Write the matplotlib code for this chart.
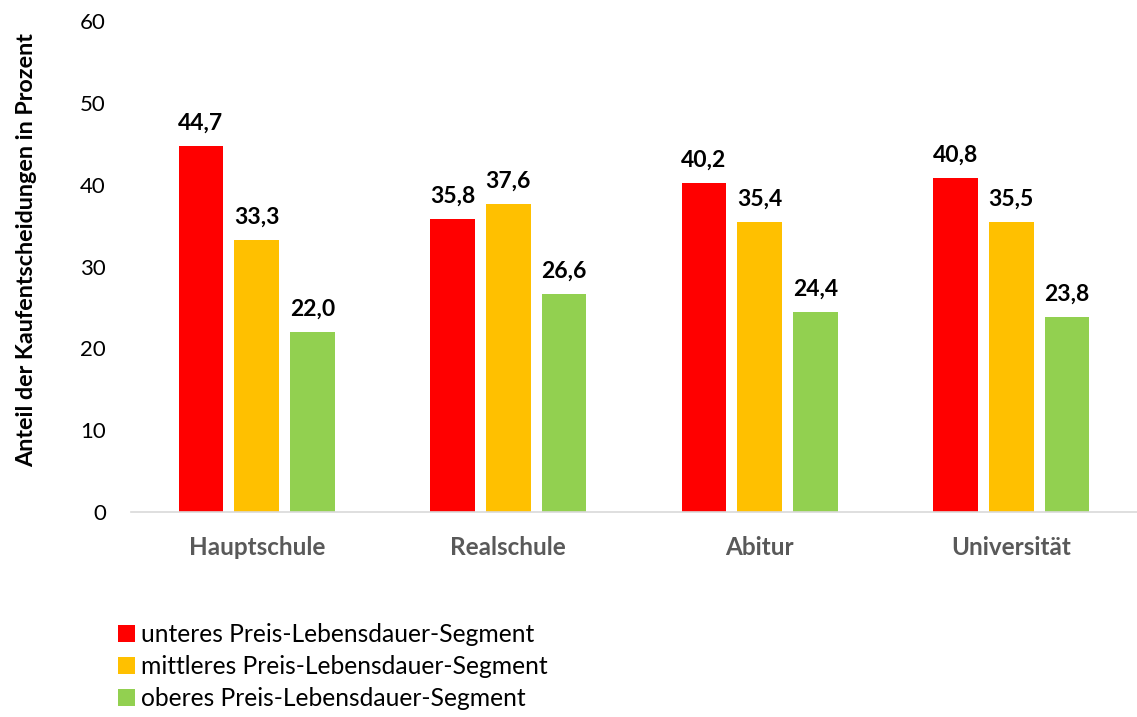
import matplotlib
matplotlib.use("Agg")
import matplotlib.pyplot as plt
import numpy as np

plt.rcParams['font.family'] = ['Lato', 'DejaVu Sans']

kategorien = ['Hauptschule', 'Realschule', 'Abitur', 'Universität']
unteres = [44.7, 35.8, 40.2, 40.8]
mittleres = [33.3, 37.6, 35.4, 35.5]
oberes = [22.0, 26.6, 24.4, 23.8]
serien_namen = ['unteres Preis-Lebensdauer-Segment',
                'mittleres Preis-Lebensdauer-Segment',
                'oberes Preis-Lebensdauer-Segment']
farben = ['#FF0000', '#FFC000', '#92D050']

fig = plt.figure(figsize=(11.37, 7.17), dpi=100)
ax = fig.add_axes([0.1152, 0.2859, 0.8848, 0.6848])

x = np.arange(len(kategorien))
breite = 0.178
abstand = 0.222
balken = []
for i, (werte, farbe, name) in enumerate(zip([unteres, mittleres, oberes], farben, serien_namen)):
    b = ax.bar(x + (i - 1) * abstand, werte, breite, color=farbe, label=name)
    balken.append(b)
    for xi, v in zip(x + (i - 1) * abstand, werte):
        ax.text(xi, v + 1.5, f'{v:.1f}'.replace('.', ','), ha='center', va='bottom',
                fontsize=16.5, fontweight='bold', color='#000000')

ax.set_xlim(-0.5, 3.5)
ax.set_ylim(0, 60)
ax.set_yticks(range(0, 61, 10))
ax.set_xticks(x)
ax.set_xticklabels(kategorien, fontsize=17.5, fontweight='bold', color='#595959')
ax.tick_params(axis='y', labelsize=16, length=0, pad=18, labelcolor='#000000')
ax.tick_params(axis='x', length=0, pad=17)
for s in ['top', 'right', 'left']:
    ax.spines[s].set_visible(False)
ax.spines['bottom'].set_color('#D9D9D9')
ax.spines['bottom'].set_linewidth(1.2)

ax.set_ylabel('Anteil der Kaufentscheidungen in Prozent', fontsize=16.8, fontweight='bold')
ax.yaxis.set_label_coords(-0.093, 0.534)

fig.legend(handles=balken, labels=serien_namen, loc='upper left',
           bbox_to_anchor=(0.1038, 0.131), frameon=False, fontsize=17.7,
           handlelength=0.7, handleheight=0.7, handletextpad=0.25, labelspacing=0.36,
           borderaxespad=0, borderpad=0)

fig.savefig('out.png', dpi=100)
